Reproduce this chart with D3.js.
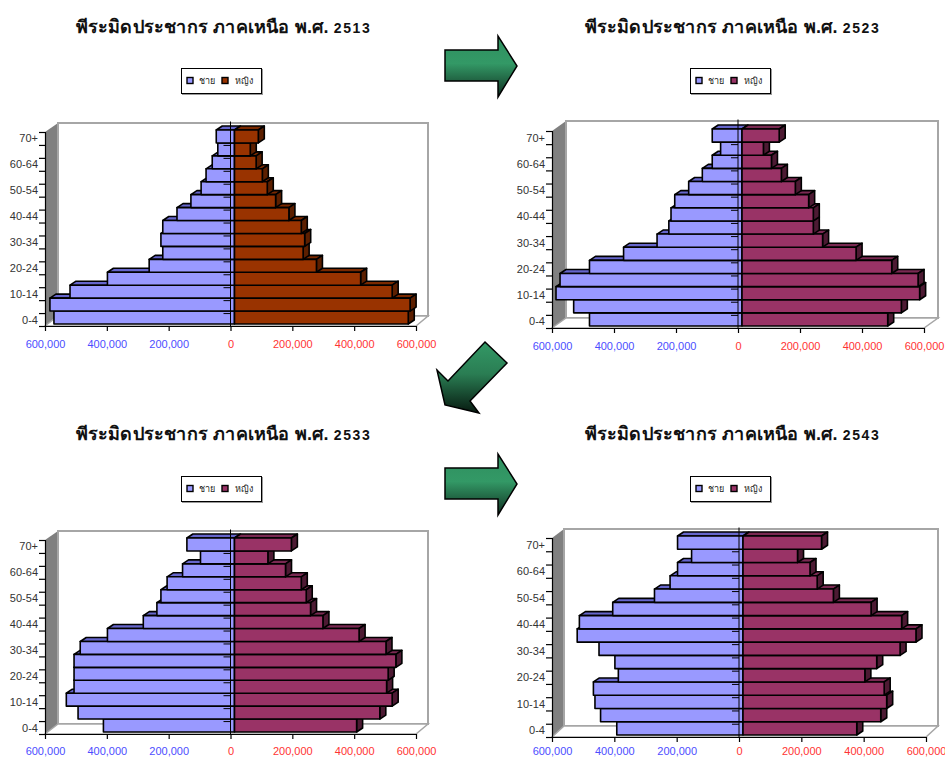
<!DOCTYPE html>
<html>
<head>
<meta charset="utf-8">
<script src="https://cdn.jsdelivr.net/npm/d3@7"></script>
<style>
  html, body { margin: 0; padding: 0; background: #fff; overflow: hidden; }
  text { font-family: "Liberation Sans", Arial, sans-serif; }
</style>
</head>
<body>
<script>
// age groups, bottom to top
const ages = ["0-4", "5-9", "10-14", "15-19", "20-24", "25-29", "30-34", "35-39",
              "40-44", "45-49", "50-54", "55-59", "60-64", "65-69", "70+"];
const shownAges = ["0-4", "10-14", "20-24", "30-34", "40-44", "50-54", "60-64", "70+"];
const xTicks = [-600000, -400000, -200000, 0, 200000, 400000, 600000];

// values
const male2513 = [584000, 597000, 532000, 411000, 276000, 232000, 238000, 232000, 186000, 141000, 108000, 92000, 72000, 54000, 59000];
const female2513 = [562000, 568000, 510000, 408000, 265000, 222000, 227000, 216000, 176000, 133000, 106000, 90000, 70000, 51000, 77000];
const male2523 = [492000, 543000, 600000, 587000, 492000, 382000, 274000, 236000, 229000, 217000, 172000, 128000, 96000, 69000, 96000];
const female2523 = [470000, 514000, 573000, 568000, 483000, 368000, 260000, 230000, 230000, 215000, 172000, 127000, 95000, 69000, 120000];
const male2533 = [424000, 506000, 544000, 519000, 519000, 519000, 499000, 411000, 295000, 251000, 238000, 218000, 168000, 110000, 154000];
const female2533 = [395000, 470000, 510000, 492000, 497000, 522000, 490000, 403000, 286000, 246000, 232000, 216000, 165000, 108000, 184000];
const male2543 = [405000, 457000, 475000, 480000, 400000, 411000, 462000, 532000, 525000, 418000, 284000, 234000, 210000, 165000, 210000];
const female2543 = [365000, 442000, 461000, 453000, 391000, 429000, 504000, 555000, 509000, 411000, 290000, 238000, 215000, 175000, 252000];

const maleLabel = "ชาย", femaleLabel = "หญิง";

const panels = [
  {year: "2513", male: male2513, female: female2513, fill: "#993300", side: "#5c1f00", top: "#7a2900", pad: 9,
   cx: 223.5, titleY: 33, legX: 181, legY: 68, left: 45, right: 416, bottom: 326, top0: 132, wallX: 58, wallR: 428, wallT: 123, wallB: 316},
  {year: "2523", male: male2523, female: female2523, fill: "#993366", side: "#4d1a33", top: "#7a2952", pad: 9,
   cx: 732.5, titleY: 33, legX: 690, legY: 68, left: 552, right: 924, bottom: 328, top0: 131, wallX: 566, wallR: 938, wallT: 121, wallB: 318},
  {year: "2533", male: male2533, female: female2533, fill: "#993366", side: "#4d1a33", top: "#7a2952", pad: 8.5,
   cx: 223.5, titleY: 440, legX: 181, legY: 476, left: 45, right: 416, bottom: 734, top0: 540, wallX: 58, wallR: 428, wallT: 531, wallB: 724},
  {year: "2543", male: male2543, female: female2543, fill: "#993366", side: "#4d1a33", top: "#7a2952", pad: 5.5,
   cx: 732.5, titleY: 440, legX: 690, legY: 476, left: 552, right: 926, bottom: 737, top0: 538, wallX: 564, wallR: 938, wallT: 529, wallB: 726}
];

const svg = d3.select("body").append("svg")
    .attr("width", 945)
    .attr("height", 758);

const poly = pts => pts.map(p => p.join(",")).join(" ");

function drawPanel(p) {
  const g = svg.append("g");

  // title, the year is set smaller and spaced out
  const title = g.append("text")
      .attr("x", p.cx)
      .attr("y", p.titleY)
      .attr("text-anchor", "middle")
      .attr("font-size", 18)
      .attr("font-weight", "bold")
      .attr("letter-spacing", 0.2)
      .attr("fill", "#111");
  title.append("tspan").text("พีระมิดประชากร ภาคเหนือ พ.ศ. ");
  title.append("tspan").attr("font-size", 14).attr("letter-spacing", 1.6).text(p.year);

  // legend
  const leg = g.append("g").attr("transform", "translate(" + p.legX + "," + p.legY + ")");
  leg.append("rect").attr("x", 1).attr("y", 1).attr("width", 81).attr("height", 26).attr("fill", "#999");
  leg.append("rect").attr("x", 0.5).attr("y", 0.5).attr("width", 80).attr("height", 25)
      .attr("fill", "#fff").attr("stroke", "#000");
  [[6, "#9999ff", 18, maleLabel], [41, p.fill, 54, femaleLabel]].forEach(function (d) {
    leg.append("rect").attr("x", d[0]).attr("y", 9.5).attr("width", 6).attr("height", 6)
        .attr("fill", d[1]).attr("stroke", "#000").attr("stroke-width", 1.4);
    leg.append("text").attr("x", d[2]).attr("y", 16).attr("font-size", 9).attr("fill", "#222").text(d[3]);
  });

  // walls and floor
  g.append("polygon")
      .attr("points", poly([[p.left, p.top0], [p.wallX, p.wallT], [p.wallX, p.wallB], [p.left, p.bottom]]))
      .attr("fill", "#808080");
  g.append("rect")
      .attr("x", p.wallX).attr("y", p.wallT)
      .attr("width", p.wallR - p.wallX).attr("height", p.wallB - p.wallT)
      .attr("fill", "#fff").attr("stroke", "#a6a6a6").attr("stroke-width", 2);
  g.append("polygon")
      .attr("points", poly([[p.left, p.bottom], [p.wallX, p.wallB], [p.wallR, p.wallB], [p.right, p.bottom]]))
      .attr("fill", "#fff").attr("stroke", "#a6a6a6").attr("stroke-width", 1.5);

  // scales
  const x = d3.scaleLinear().domain([-600000, 600000]).range([p.left, p.right]);
  const y = d3.scaleBand().domain(ages).range([p.bottom, p.top0]);
  const edge = d3.scaleLinear().domain([0, ages.length]).range([p.bottom, p.top0]);

  // bars sit a little behind the front plane
  const dx = 4, dy = -2, ox = 6, oy = -4;
  const bh = y.bandwidth();

  const rows = g.selectAll("g.row")
      .data(ages.map(function (a, i) { return {age: a, m: p.male[i], f: p.female[i]}; }))
      .enter().append("g")
      .attr("class", "row")
      .attr("stroke", "#000")
      .attr("stroke-width", 1.6)
      .attr("stroke-linejoin", "round");

  // male
  rows.append("polygon")
      .attr("points", function (d) {
        const l = x(-d.m) + dx, r = x(0) + dx, t = y(d.age) + dy;
        return poly([[l, t], [l + ox, t + oy], [r + ox, t + oy], [r, t]]);
      })
      .attr("fill", "#6666cc");
  rows.append("rect")
      .attr("x", function (d) { return x(-d.m) + dx; })
      .attr("y", function (d) { return y(d.age) + dy; })
      .attr("width", function (d) { return x(0) - x(-d.m); })
      .attr("height", bh)
      .attr("fill", "#9999ff");

  // female
  rows.append("polygon")
      .attr("points", function (d) {
        const l = x(0) + dx, r = x(d.f) + dx, t = y(d.age) + dy;
        return poly([[l, t], [l + ox, t + oy], [r + ox, t + oy], [r, t]]);
      })
      .attr("fill", p.top);
  rows.append("polygon")
      .attr("points", function (d) {
        const r = x(d.f) + dx, t = y(d.age) + dy;
        return poly([[r, t], [r + ox, t + oy], [r + ox, t + oy + bh], [r, t + bh]]);
      })
      .attr("fill", p.side);
  rows.append("rect")
      .attr("x", x(0) + dx)
      .attr("y", function (d) { return y(d.age) + dy; })
      .attr("width", function (d) { return x(d.f) - x(0); })
      .attr("height", bh)
      .attr("fill", p.fill);

  // left axis: ticks on band edges, labels on band centres
  g.append("g")
      .attr("transform", "translate(" + p.left + ",0)")
      .call(d3.axisLeft(edge).tickValues(d3.range(ages.length + 1)).tickSize(6).tickFormat(""))
      .call(function (s) { s.selectAll("path, line").attr("stroke", "#000").attr("stroke-width", 1.2); });
  g.append("g")
      .attr("transform", "translate(" + (p.left + 1) + ",0.5)")
      .call(d3.axisLeft(y).tickValues(shownAges).tickSize(0).tickPadding(8))
      .call(function (s) {
        s.select("path").remove();
        s.selectAll("text").attr("font-size", 11).attr("font-family", null).attr("fill", "#333");
      });

  // small ticks on the zero line
  g.append("g")
      .attr("transform", "translate(" + x(0) + ",0)")
      .call(d3.axisLeft(edge).tickValues(d3.range(1, ages.length)).tickSize(7).tickSizeOuter(0).tickFormat(""))
      .call(function (s) {
        s.select("path").remove();
        s.selectAll("line").attr("stroke", "#000").attr("stroke-width", 1);
      });
  g.append("line")
      .attr("x1", x(0)).attr("x2", x(0))
      .attr("y1", p.wallT - 1.5).attr("y2", p.bottom)
      .attr("stroke", "#000").attr("stroke-width", 1);

  // bottom axis
  g.append("g")
      .attr("transform", "translate(0," + p.bottom + ")")
      .call(d3.axisBottom(x).tickValues(xTicks).tickSize(5).tickSizeOuter(0).tickPadding(p.pad)
          .tickFormat(function (d) { return d3.format(",")(Math.abs(d)); }))
      .call(function (s) {
        s.selectAll("path, line").attr("stroke", "#000").attr("stroke-width", 1.2);
        s.selectAll("text")
            .attr("font-size", 11)
            .attr("font-family", null)
            .attr("fill", function (d) { return d < 0 ? "#4d4dff" : "#ff3333"; });
      });
}

panels.forEach(drawPanel);

// arrows between the panels
const defs = svg.append("defs");
function arrowGradient(id, c0, c1, c2) {
  const gr = defs.append("linearGradient").attr("id", id).attr("x1", 0).attr("y1", 0).attr("x2", 0).attr("y2", 1);
  gr.append("stop").attr("offset", "0%").attr("stop-color", c0);
  gr.append("stop").attr("offset", "45%").attr("stop-color", c1);
  gr.append("stop").attr("offset", "100%").attr("stop-color", c2);
}
arrowGradient("arrowRight", "#2f8f5f", "#339966", "#0f2f20");
arrowGradient("arrowDown", "#339966", "#2a7d53", "#071a10");

const rightArrow = [[445, 50], [498, 50], [498, 36], [517, 66], [498, 97], [498, 81], [445, 81]];
const downArrow = [[485, 342], [507, 363], [470, 401], [479, 413], [445, 405], [437, 370], [448, 381]];

svg.append("polygon").attr("points", poly(rightArrow))
    .attr("fill", "url(#arrowRight)").attr("stroke", "#000").attr("stroke-width", 1.5);
svg.append("polygon").attr("points", poly(rightArrow)).attr("transform", "translate(0,418)")
    .attr("fill", "url(#arrowRight)").attr("stroke", "#000").attr("stroke-width", 1.5);
svg.append("polygon").attr("points", poly(downArrow))
    .attr("fill", "url(#arrowDown)").attr("stroke", "#000").attr("stroke-width", 1.5);
</script>
</body>
</html>
